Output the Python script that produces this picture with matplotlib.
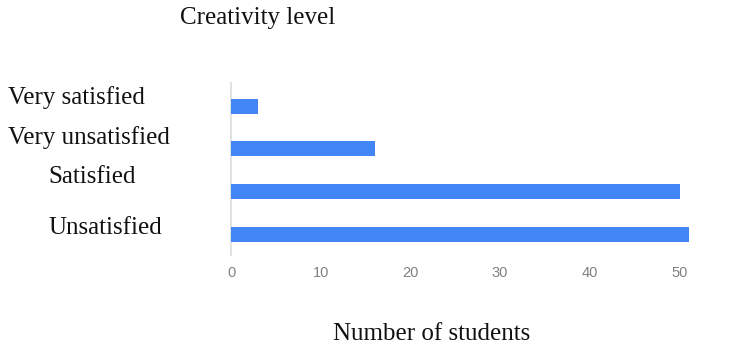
import matplotlib
matplotlib.use("Agg")
import matplotlib.pyplot as plt
import matplotlib.transforms as mtransforms

# creativity survey answers, bottom row first
levels = ["Unsatisfied", "Satisfied", "Very unsatisfied", "Very satisfied"]
students = [51, 50, 16, 3]
xticks = [0, 10, 20, 30, 40, 50]

# where each row label sits (figure x, vertical nudge in points)
label_x = [48, 48, 8, 8]
label_dy = [4.5, 10.5, 8, 6.5]

fig = plt.figure(figsize=(7.54, 3.5), dpi=100)
ax = fig.add_axes([231 / 754, 1 - 255 / 350, 462 / 754, 172 / 350])

ypos = list(range(len(levels)))
ax.barh(ypos, students, height=0.35, color="#4285f4", zorder=3)

ax.set_xlim(0, 51.5)
ax.set_ylim(-0.48, 3.54)
for s in ["top", "right", "bottom"]:
    ax.spines[s].set_visible(False)
ax.spines["left"].set_color("#e2e2e2")
ax.spines["left"].set_linewidth(1.5)
ax.set_yticks([])
ax.set_xticks(xticks)
ax.set_xticklabels([str(t) for t in xticks], fontsize=10.5, color="#808080",
                   family="Liberation Sans")
ax.tick_params(axis="x", length=0, pad=8)

trans = mtransforms.blended_transform_factory(fig.transFigure, ax.transData)
for y, lab, lx, dy in zip(ypos, levels, label_x, label_dy):
    off = mtransforms.offset_copy(trans, fig=fig, x=0, y=dy, units="points")
    ax.text(lx / 754, y, lab, transform=off, ha="left", va="center",
            fontsize=18, family="Liberation Serif", color="#111111")

fig.text(180 / 754, 1 - 18 / 350, "Creativity level", ha="left", va="center",
         fontsize=18, family="Liberation Serif", color="#111111")
fig.text(432 / 754, 1 - 334 / 350, "Number of students", ha="center", va="center",
         fontsize=18, family="Liberation Serif", color="#111111")

fig.savefig("out.png", dpi=100)
